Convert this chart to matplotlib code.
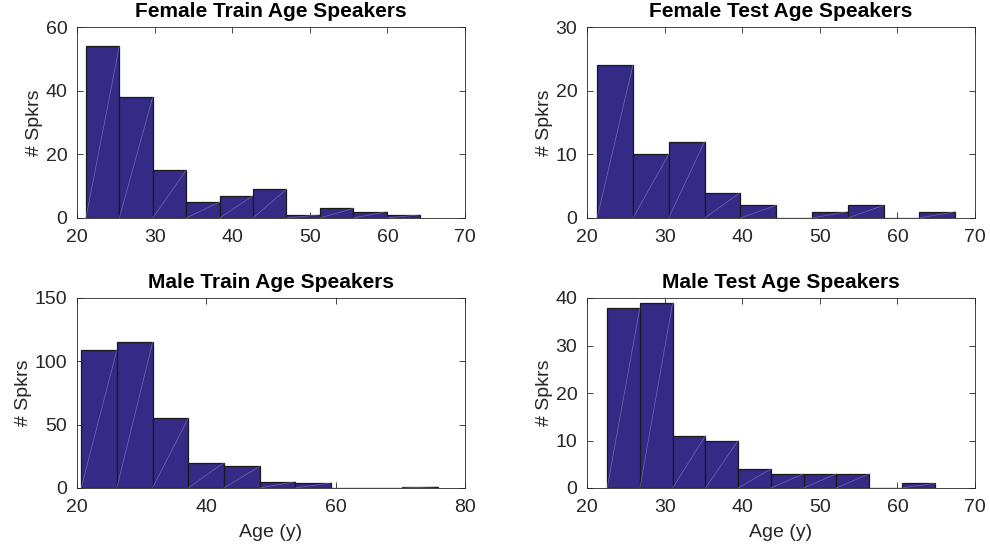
import numpy as np
import matplotlib.pyplot as plt

plt.rcParams['font.family'] = ['Liberation Sans', 'DejaVu Sans']

# counts per bin (10 bins each) and the age range the bins cover
female_train = [54, 38, 15, 5, 7, 9, 1, 3, 2, 1]
female_train_range = (21.15, 64.2)
female_test = [24, 10, 12, 4, 2, 0, 1, 2, 0, 1]
female_test_range = (21.3, 67.45)
male_train = [109, 115, 55, 20, 17, 5, 4, 0, 0, 1]
male_train_range = (20.65, 75.8)
male_test = [38, 39, 11, 10, 4, 3, 3, 3, 0, 1]
male_test_range = (22.6, 64.8)

titles = ['Female Train Age Speakers', 'Female Test Age Speakers',
          'Male Train Age Speakers', 'Male Test Age Speakers']
xlims = [(20, 70), (20, 70), (20, 80), (20, 70)]
xticks = [[20, 30, 40, 50, 60, 70], [20, 30, 40, 50, 60, 70],
          [20, 40, 60, 80], [20, 30, 40, 50, 60, 70]]
ylims = [(0, 60), (0, 30), (0, 150), (0, 40)]
yticks = [[0, 20, 40, 60], [0, 10, 20, 30], [0, 50, 100, 150], [0, 10, 20, 30, 40]]

counts = [female_train, female_test, male_train, male_test]
ranges = [female_train_range, female_test_range, male_train_range, male_test_range]

bar_color = '#352a86'
axis_color = '#262626'

fig = plt.figure(figsize=(9.9, 5.48), dpi=100)
W, H = 990, 548
boxes = [(77, 27, 465, 218), (587, 27, 975, 218),
         (77, 298, 465, 488), (587, 298, 975, 488)]

for i in range(4):
    x0, y0, x1, y1 = boxes[i]
    ax = fig.add_axes([x0 / W, 1 - y1 / H, (x1 - x0) / W, (y1 - y0) / H])
    c = np.array(counts[i])
    edges = np.linspace(ranges[i][0], ranges[i][1], len(c) + 1)
    ax.bar(edges[:-1], c, width=np.diff(edges), align='edge',
           color=bar_color, edgecolor='#1a1a1a', linewidth=0.9, zorder=2)
    # faint diagonal seams across each bar
    for l, r, h in zip(edges[:-1], edges[1:], c):
        if h > 0:
            ax.plot([l, r], [0, h], color='#8a86c4', lw=0.5, alpha=0.7, zorder=3)
    ax.set_xlim(xlims[i])
    ax.set_ylim(ylims[i])
    ax.set_xticks(xticks[i])
    ax.set_yticks(yticks[i])
    ax.tick_params(direction='in', top=True, right=True, length=4,
                   width=0.6, color=axis_color, labelsize=14,
                   labelcolor=axis_color)
    ax.tick_params(axis='x', pad=8)
    ax.tick_params(axis='y', pad=7)
    for s in ax.spines.values():
        s.set_color(axis_color)
        s.set_linewidth(0.6)
    ax.set_title(titles[i], fontsize=15, fontweight='bold', pad=7)
    ax.set_ylabel('# Spkrs', fontsize=14, color=axis_color, labelpad=2)
    if i >= 2:
        ax.set_xlabel('Age (y)', fontsize=14, color=axis_color, labelpad=6)

fig.savefig('out.png', dpi=100)
